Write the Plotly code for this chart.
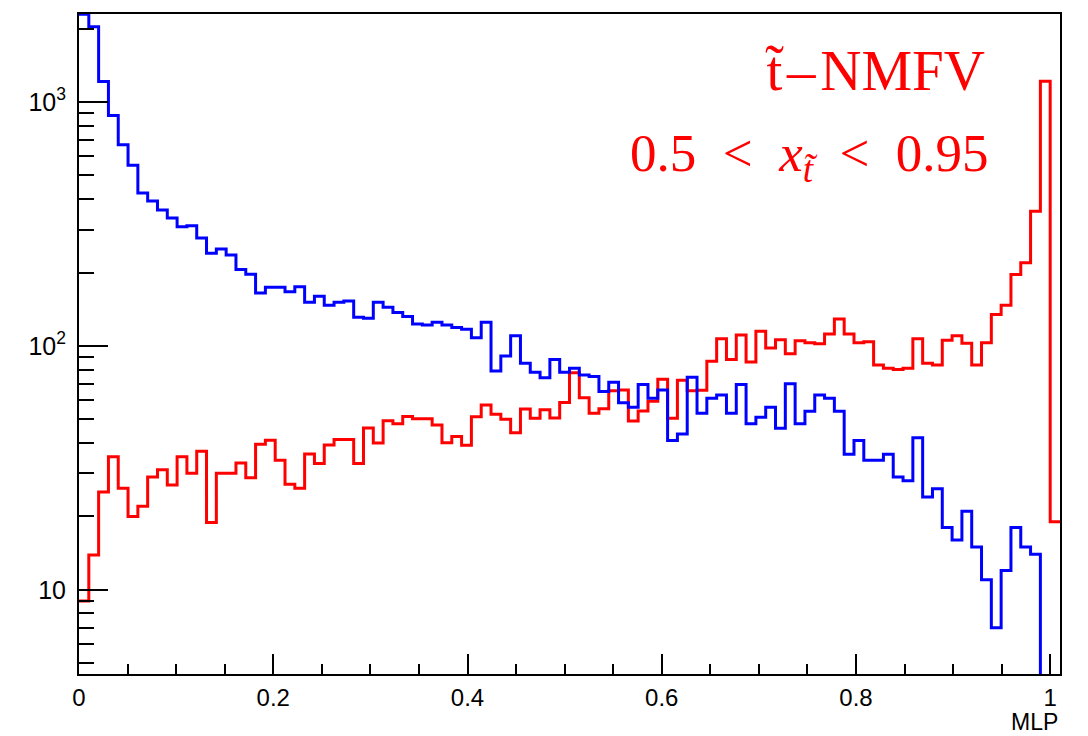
import numpy as np
import plotly.graph_objects as go

# Histogram definition (MLP output), 100 bins
n_bins = 100
x_min, x_max = 0.0, 1.01

# Background (blue) bin contents (first bin is clipped at the top)
blue_counts = [
    2290, 2038, 1215, 880, 668, 551, 424, 393, 361, 335,
    308, 311, 277, 240, 250, 236, 206, 197, 165, 174,
    174, 167, 175, 151, 160, 147, 151, 153, 131, 130,
    151, 144, 137, 132, 123, 122, 125, 122, 119, 117,
    108, 125, 79, 91, 110, 85, 78, 74, 88, 78,
    81, 76, 75, 65, 71, 58.5, 56, 69.5, 61, 66,
    41, 43.5, 74.5, 53, 61, 63, 53, 69.5, 48, 51,
    56, 46, 70, 48, 54, 63, 61, 54, 36, 41,
    34, 34, 36, 29, 28, 42, 24, 26, 18, 16,
    21, 15, 11, 7, 12, 18, 15, 14, 0, 0,
]

# Signal (red) bin contents
red_counts = [
    9.0, 13.9, 25.2, 35.1, 26.1, 20.0, 22.0, 29.0, 31.1, 26.9,
    35.1, 30.1, 37.0, 18.9, 30.1, 30.1, 33.1, 28.8, 39.5, 41.1,
    34.0, 27.1, 26.1, 36.1, 33.0, 39.3, 41.3, 41.3, 33.0, 46.1,
    40.0, 49.3, 48.0, 51.4, 50.3, 50.3, 47.4, 40.1, 42.5, 39.2,
    51.3, 57.3, 52.5, 50.0, 44.1, 55.2, 50.5, 54.7, 50.7, 58.7,
    77.6, 61.3, 53.0, 55.3, 65.5, 66.0, 49.2, 54.1, 59.4, 73.0,
    50.5, 72.3, 65.5, 65.8, 86.6, 107, 88, 111, 86, 115,
    98, 106, 93, 105, 103, 102, 112, 129, 112, 103,
    104, 83.5, 81, 80, 81, 107, 85, 83.5, 105.5, 110,
    102.7, 83.5, 103, 134.5, 147, 196.5, 219.5, 357, 1218, 19,
]

x_tick_vals = [0, 0.2, 0.4, 0.6, 0.8, 1.0]
x_tick_text = ["0", "0.2", "0.4", "0.6", "0.8", "1"]
y_tick_vals = [10, 100, 1000]
y_tick_text = ["10", "10<sup>2</sup>", "10<sup>3</sup>"]

label_line1 = "t\u0303\u200a\u2013\u200aNMFV"
label_line2 = "0.5\u2002<\u2002<i>x</i><sub><i>t\u0303</i></sub>\u2002<\u20020.95"
axis_title = "MLP"

edges = np.linspace(x_min, x_max, n_bins + 1)


def step_xy(counts):
    v = np.asarray(counts, dtype=float)
    v = np.where(v > 0, v, 1e-3)  # empty bins drawn at the bottom of the log axis
    xs = np.concatenate([edges[:-1], [edges[-1]]])
    ys = np.concatenate([v, [v[-1]]])
    return xs, ys


fig = go.Figure()
for counts, color in [(red_counts, "#ff0000"), (blue_counts, "#0000ff")]:
    xs, ys = step_xy(counts)
    fig.add_trace(go.Scatter(x=xs, y=ys, mode="lines", line=dict(color=color, width=3, shape="hv"),
                             hoverinfo="skip", showlegend=False))

x_minor = [round(0.05 * k, 2) for k in range(0, 21) if k % 4 != 0]
y_minor = [m * 10 ** d for d in range(0, 4) for m in range(2, 10) if 4.5 < m * 10 ** d < 2300]

fig.update_layout(
    width=1088, height=736,
    margin=dict(l=79, r=28, t=12, b=62),
    paper_bgcolor="white", plot_bgcolor="white",
    showlegend=False,
    xaxis=dict(range=[x_min, x_max], tickmode="array", tickvals=x_tick_vals, ticktext=x_tick_text,
               ticks="inside", ticklen=20, tickwidth=2, tickcolor="black",
               minor=dict(tickmode="array", tickvals=x_minor, ticks="inside", ticklen=10, tickwidth=2,
                          tickcolor="black", showgrid=False),
               showline=True, linewidth=2, linecolor="black", mirror=True, showgrid=False, zeroline=False,
               tickfont=dict(family="Liberation Sans", size=24, color="black"), ticklabelstandoff=1),
    yaxis=dict(type="log", range=[0.655, 3.361], tickmode="array", tickvals=y_tick_vals, ticktext=y_tick_text,
               ticks="inside", ticklen=29, tickwidth=2, tickcolor="black",
               minor=dict(tickmode="array", tickvals=y_minor, ticks="inside", ticklen=15, tickwidth=2,
                          tickcolor="black", showgrid=False),
               showline=True, linewidth=2, linecolor="black", mirror=True, showgrid=False, zeroline=False,
               tickfont=dict(family="Liberation Sans", size=25, color="black"), ticklabelstandoff=6),
    annotations=[
        dict(text=label_line1, xref="paper", yref="paper", x=0.9255, y=0.915, xanchor="right", yanchor="middle",
             showarrow=False, font=dict(family="Liberation Serif", size=57, color="#ff0000")),
        dict(text=label_line2, xref="paper", yref="paper", x=0.9295, y=0.784, xanchor="right", yanchor="middle",
             showarrow=False, font=dict(family="Liberation Serif", size=53, color="#ff0000")),
        dict(text=axis_title, xref="paper", yref="paper", x=0.999, y=-0.0935, xanchor="right", yanchor="bottom",
             borderpad=0, showarrow=False, font=dict(family="Liberation Sans", size=23, color="black")),
    ],
)

fig.write_html("out.html", config={"displayModeBar": False, "staticPlot": True},
               post_script="document.body.style.margin='0';document.body.style.padding='0';")
